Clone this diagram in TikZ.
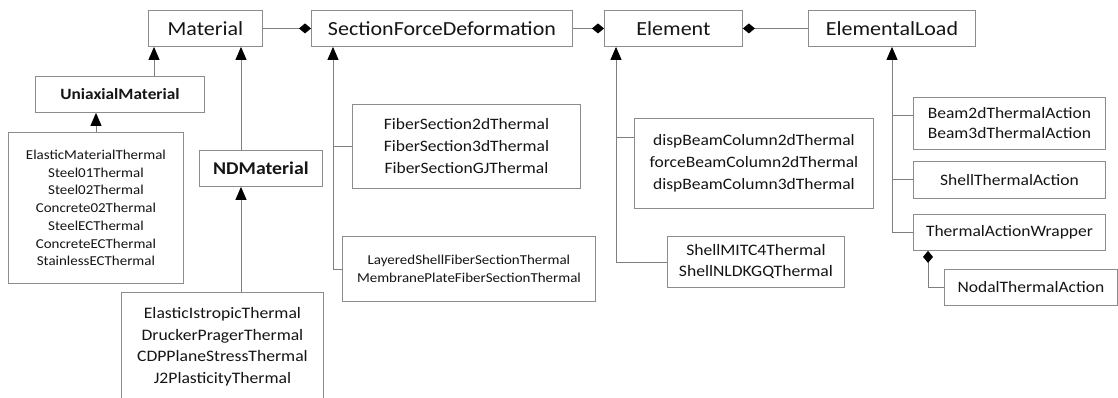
\documentclass[tikz,border=0pt]{standalone}
\usepackage{fontspec}
\setmainfont{Carlito}[FakeStretch=1.1]
\usetikzlibrary{arrows.meta}
\definecolor{ln}{HTML}{7F7F7F}
\definecolor{bd}{HTML}{8C8C8C}
\definecolor{tx}{HTML}{151515}
\tikzset{
 box/.style={draw=bd, line width=0.9pt, anchor=north west, inner sep=0pt, align=center, text=tx},
 topbox/.style={box, font=\fontsize{20}{24}\selectfont},
 midbox/.style={box, font=\fontsize{15.9}{22}\selectfont},
 smlbox/.style={box, font=\fontsize{13.6}{17.7}\selectfont},
 conn/.style={draw=ln, line width=0.9pt},
 gen/.style={conn, -{Triangle[length=13pt,width=11pt,black]}},
 agg/.style={conn, -{Diamond[length=12pt,width=10pt,black]}},
 aggs/.style={conn, {Diamond[length=12pt,width=10pt,black]}-},
}
\newcommand\bx[7]{\node[#2, minimum width={#5-#3}, minimum height={#6-#4}] (#1) at (#3,#4) {#7};}
\begin{document}
\begin{tikzpicture}[x=1pt,y=-1pt]
\useasboundingbox (0,0) rectangle (1118,398);
\fill[white] (0,0) rectangle (1118,398);
\clip (0,0) rectangle (1118,398);
% top row
\bx{mat}{topbox}{148}{10}{262}{46}{Material}
\bx{sfd}{topbox}{311}{10}{572}{46}{SectionForceDeformation}
\bx{ele}{topbox}{604}{10}{742}{46}{Element}
\bx{el}{topbox}{808}{10}{975}{46}{ElementalLoad}
% materials
\bx{uni}{box, font=\fontsize{15.7}{18}\selectfont\bfseries}{35}{76}{204}{112}{UniaxialMaterial}
\bx{ulist}{smlbox}{8}{132}{183}{283}{ElasticMaterialThermal\\Steel01Thermal\\Steel02Thermal\\Concrete02Thermal\\SteelECThermal\\ConcreteECThermal\\StainlessECThermal}
\bx{nd}{box, font=\fontsize{18}{20}\selectfont\bfseries}{199}{150}{322}{186}{NDMaterial}
\bx{ndl}{box, font=\fontsize{16}{21.5}\selectfont}{121}{292}{323}{401}{ElasticIstropicThermal\\DruckerPragerThermal\\CDPPlaneStressThermal\\J2PlasticityThermal}
% sections
\bx{fib}{midbox}{352}{104}{580}{188}{FiberSection2dThermal\\FiberSection3dThermal\\FiberSectionGJThermal}
\bx{lay}{smlbox}{342}{236}{595}{301}{LayeredShellFiberSectionThermal\\MembranePlateFiberSectionThermal}
% elements
\bx{disp}{midbox}{634}{118}{873}{208}{dispBeamColumn2dThermal\\forceBeamColumn2dThermal\\dispBeamColumn3dThermal}
\bx{shl}{box, font=\fontsize{16}{21}\selectfont}{667}{236}{844}{287}{ShellMITC4Thermal\\ShellNLDKGQThermal}
% loads
\bx{beam}{box, font=\fontsize{15.9}{20}\selectfont}{913}{97}{1105}{149}{Beam2dThermalAction\\Beam3dThermalAction}
\bx{sta}{midbox}{913}{161}{1105}{198}{ShellThermalAction}
\bx{taw}{midbox}{913}{214}{1105}{250}{ThermalActionWrapper}
\bx{nod}{midbox}{944}{269}{1117}{305}{NodalThermalAction}
% helper coordinates
\coordinate (xA) at (154,0);
\coordinate (xB) at (241,0);
\coordinate (xC) at (96,0);
\coordinate (xS) at (333,0);
\coordinate (xE) at (616,0);
\coordinate (xL) at (892,0);
\coordinate (xN) at (928,0);
\coordinate (yD) at (0,137);
\coordinate (yB) at (0,115);
% connectors
\draw[agg] (mat.east) -- (sfd.west);
\draw[agg] (sfd.east) -- (ele.west);
\draw[aggs] (ele.east) -- (el.west);
\draw[gen] (uni.north -| xA) -- (mat.south -| xA);
\draw[gen] (nd.north -| xB) -- (mat.south -| xB);
\draw[gen] (ulist.north -| xC) -- (uni.south -| xC);
\draw[gen] (ndl.north -| xB) -- (nd.south -| xB);
\draw[gen] (lay.west) -| (sfd.south -| xS);
\draw[conn] (fib.west) -- (fib.west -| xS);
\draw[gen] (shl.west) -| (ele.south -| xE);
\draw[conn] (disp.west |- yD) -- (xE |- yD);
\draw[gen] (taw.west) -| (el.south -| xL);
\draw[conn] (sta.west) -- (sta.west -| xL);
\draw[conn] (beam.west |- yB) -- (xL |- yB);
\draw[aggs] (taw.south -| xN) |- (nod.west);
\end{tikzpicture}
\end{document}
